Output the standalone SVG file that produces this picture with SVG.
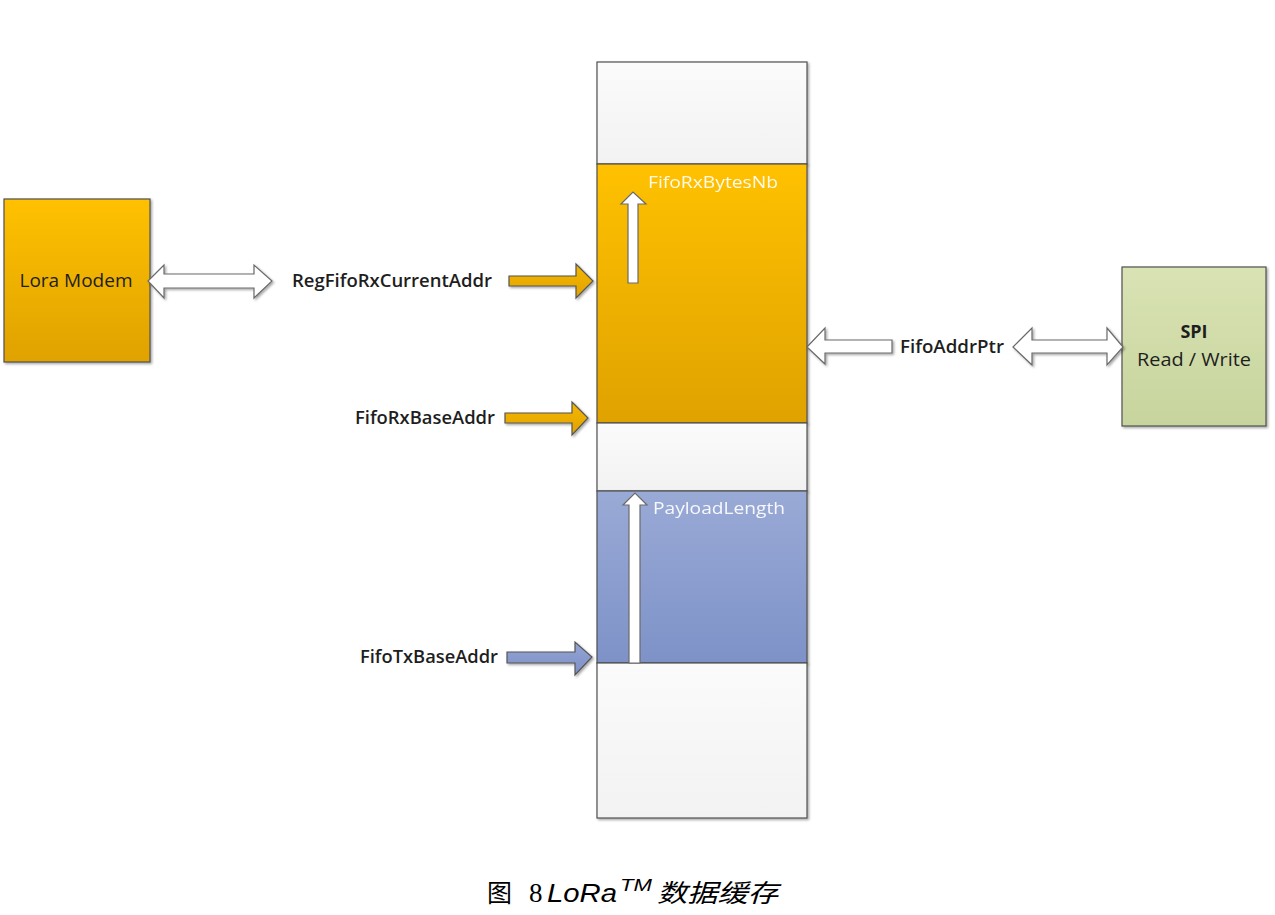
<svg xmlns="http://www.w3.org/2000/svg" width="1275" height="915" viewBox="0 0 1275 915">
<defs>
<linearGradient id="gOr" x1="0" y1="0" x2="0" y2="1"><stop offset="0" stop-color="#FFC100"/><stop offset="1" stop-color="#DFA200"/></linearGradient>
<linearGradient id="gBl" x1="0" y1="0" x2="0" y2="1"><stop offset="0" stop-color="#9AAAD6"/><stop offset="1" stop-color="#7E92C8"/></linearGradient>
<linearGradient id="gGr" x1="0" y1="0" x2="0" y2="1"><stop offset="0" stop-color="#FBFBFB"/><stop offset="1" stop-color="#F2F2F2"/></linearGradient>
<linearGradient id="gSpi" x1="0" y1="0" x2="0" y2="1"><stop offset="0" stop-color="#D9E3B4"/><stop offset="1" stop-color="#C7D49D"/></linearGradient>
<linearGradient id="gOrA" x1="0" y1="0" x2="0" y2="1"><stop offset="0" stop-color="#F6B700"/><stop offset="1" stop-color="#E0A300"/></linearGradient>
<linearGradient id="gBlA" x1="0" y1="0" x2="0" y2="1"><stop offset="0" stop-color="#93A4D4"/><stop offset="1" stop-color="#7D90C6"/></linearGradient>
<filter id="sh" x="-10%" y="-10%" width="130%" height="130%"><feDropShadow dx="1.5" dy="1.5" stdDeviation="1.2" flood-color="#000" flood-opacity="0.35"/></filter>
</defs>
<style>
.box{stroke:#505050;stroke-width:1.2}
.lbl{font-family:"Open Sans","Liberation Sans",sans-serif;font-size:18px;fill:#1e1e1e;font-weight:600}
.wl{font-family:"Open Sans","Liberation Sans",sans-serif;font-size:17px;fill:#FFFFFF;opacity:0.92}
.wa{fill:#FFFFFF;stroke:#6a6a6a;stroke-width:1.2}
.oa{fill:url(#gOrA);stroke:#555;stroke-width:1.2}
.ba{fill:url(#gBlA);stroke:#555;stroke-width:1.2}
</style>
<rect width="1275" height="915" fill="#FFFFFF"/>

<g id="fifo-memory">
<rect class="box" x="597" y="62" width="210" height="102" fill="url(#gGr)" filter="url(#sh)"/>
<rect class="box" x="597" y="164" width="210" height="259" fill="url(#gOr)" filter="url(#sh)"/>
<rect class="box" x="597" y="423" width="210" height="68" fill="url(#gGr)" filter="url(#sh)"/>
<rect class="box" x="597" y="491" width="210" height="172" fill="url(#gBl)" filter="url(#sh)"/>
<rect class="box" x="597" y="663" width="210" height="155" fill="url(#gGr)" filter="url(#sh)"/>
</g>

<g id="lora-modem">
<rect class="box" x="4" y="199" width="146" height="163" fill="url(#gOr)" filter="url(#sh)"/>
<text x="76" y="287" text-anchor="middle" font-family="Open Sans, Liberation Sans, sans-serif" font-size="18" fill="#1e1e1e" textLength="113" lengthAdjust="spacingAndGlyphs">Lora Modem</text>
</g>

<g id="spi">
<rect class="box" x="1122" y="267" width="144" height="159" fill="url(#gSpi)" filter="url(#sh)"/>
<text x="1194" y="338" text-anchor="middle" font-family="Open Sans, Liberation Sans, sans-serif" font-size="18" font-weight="700" fill="#1e1e1e">SPI</text>
<text x="1194" y="366" text-anchor="middle" font-family="Open Sans, Liberation Sans, sans-serif" font-size="18" fill="#1e1e1e" textLength="114" lengthAdjust="spacingAndGlyphs">Read / Write</text>
</g>

<g id="connectors">
<path class="wa" d="M148,281 L164,265 L164,274 L254,274 L254,265 L272,281 L254,298 L254,288 L164,288 L164,298 Z" filter="url(#sh)"/>
<path class="oa" d="M509,276 L576,276 L576,264 L593,281 L576,298 L576,286 L509,286 Z" filter="url(#sh)"/>
<path class="oa" d="M505,413 L572,413 L572,402 L588,418 L572,435 L572,423 L505,423 Z" filter="url(#sh)"/>
<path class="ba" d="M507,652 L575,652 L575,642 L592,657 L575,675 L575,663 L507,663 Z" filter="url(#sh)"/>
<path class="wa" d="M628,283 L628,204 L621,204 L633,192 L646,204 L638,204 L638,283 Z"/>
<path class="wa" d="M629,663 L629,505 L623,505 L635,493 L647,505 L640,505 L640,663 Z"/>
<path class="wa" d="M807,347 L825,328 L825,340 L892,340 L892,353 L825,353 L825,364 Z" filter="url(#sh)"/>
<path class="wa" d="M1013,347 L1032,328 L1032,340 L1107,340 L1107,328 L1123,347 L1107,365 L1107,353 L1032,353 L1032,365 Z" filter="url(#sh)"/>
</g>

<g id="labels">
<text class="lbl" x="292" y="287" textLength="200" lengthAdjust="spacingAndGlyphs">RegFifoRxCurrentAddr</text>
<text class="lbl" x="355" y="424" textLength="140" lengthAdjust="spacingAndGlyphs">FifoRxBaseAddr</text>
<text class="lbl" x="360" y="663" textLength="138" lengthAdjust="spacingAndGlyphs">FifoTxBaseAddr</text>
<text class="lbl" x="900" y="353" textLength="104" lengthAdjust="spacingAndGlyphs">FifoAddrPtr</text>
<text class="wl" x="648" y="188" textLength="130" lengthAdjust="spacingAndGlyphs">FifoRxBytesNb</text>
<text class="wl" x="653" y="514" textLength="132" lengthAdjust="spacingAndGlyphs">PayloadLength</text>
</g>

<g id="caption">
<text x="487" y="902" font-family="Noto Sans CJK SC, sans-serif" font-size="25" fill="#000">图</text>
<text x="529" y="902" font-family="Liberation Serif, serif" font-size="27" fill="#000">8</text>
<text x="547" y="902" font-family="Liberation Sans, sans-serif" font-size="25" font-style="italic" fill="#000" textLength="70" lengthAdjust="spacingAndGlyphs">LoRa</text>
<text x="620" y="891" font-family="Liberation Sans, sans-serif" font-size="16" font-style="italic" fill="#000" textLength="32" lengthAdjust="spacingAndGlyphs">TM</text>
<text x="657" y="902" font-family="Noto Sans CJK SC, sans-serif" font-size="25" font-style="italic" fill="#000" textLength="121" lengthAdjust="spacingAndGlyphs">数据缓存</text>
</g>
</svg>
